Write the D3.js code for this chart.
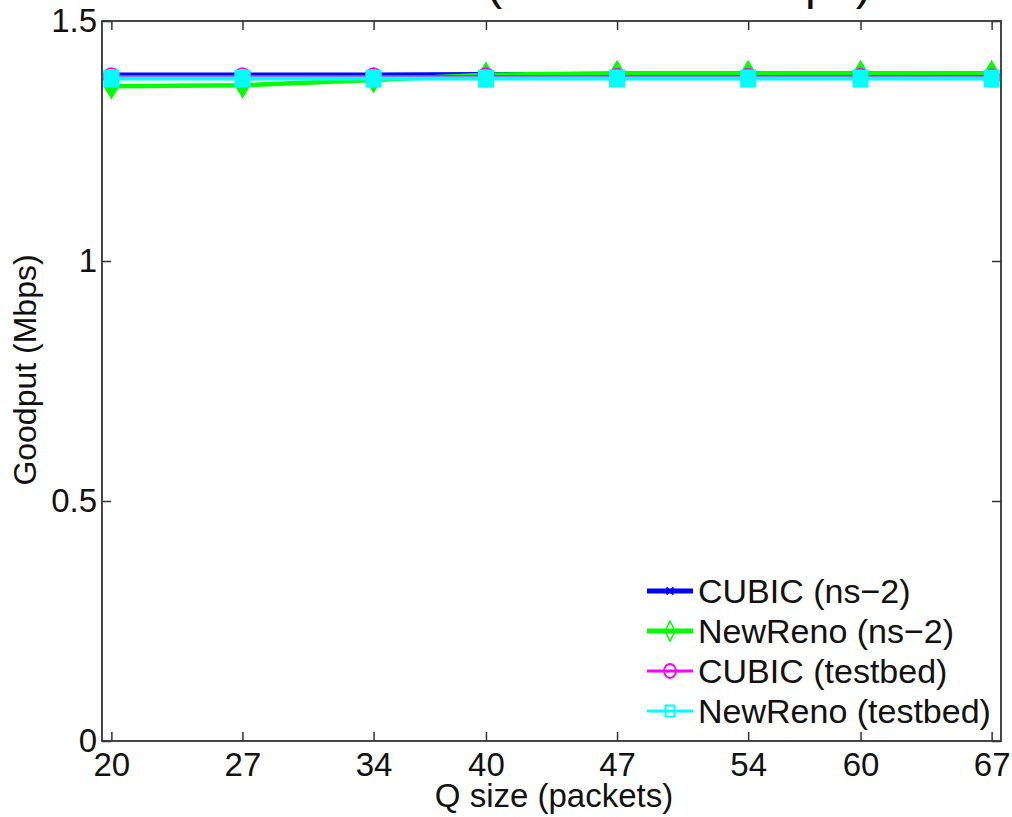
<!DOCTYPE html>
<html>
<head>
<meta charset="utf-8">
<script src="https://cdn.jsdelivr.net/npm/d3@7"></script>
<style>
  body { margin: 0; background: #fff; }
  text { font-family: "Liberation Sans", Arial, sans-serif; fill: #111; }
</style>
</head>
<body>
<div id="chart"></div>
<script>
// Data
const qSizes = [20, 27, 34, 40, 47, 54, 60, 67];
const cubicNs2 = [1.388, 1.388, 1.388, 1.389, 1.389, 1.389, 1.389, 1.389];
const newrenoNs2 = [1.364, 1.366, 1.377, 1.388, 1.391, 1.391, 1.391, 1.391];
const cubicTestbed = [1.385, 1.385, 1.385, 1.385, 1.384, 1.384, 1.384, 1.383];
const newrenoTestbed = [1.380, 1.380, 1.380, 1.380, 1.380, 1.380, 1.380, 1.380];
const yTicks = [0, 0.5, 1, 1.5];
const seriesNames = ["CUBIC (ns\u22122)", "NewReno (ns\u22122)", "CUBIC (testbed)", "NewReno (testbed)"];

const W = 1012, H = 817;
const plotL = 102, plotR = 1001, plotT = 21, plotB = 741;

const svg = d3.select("#chart").append("svg")
    .attr("width", W)
    .attr("height", H);

const x = d3.scaleLinear().domain([19.5, 67.5]).range([plotL, plotR]);
const y = d3.scaleLinear().domain([0, 1.5]).range([plotB, plotT]);

// title (cut off at the top of the picture)
svg.append("text")
    .attr("x", 679)
    .attr("y", -1)
    .attr("text-anchor", "middle")
    .style("font-size", "48px")
    .text("(Rate = 1.5 Mbps)");

// axes with inward ticks on all sides
const tickLen = 9;
svg.append("g")
    .attr("transform", `translate(0,${plotB})`)
    .call(d3.axisBottom(x).tickValues(qSizes).tickSize(-tickLen).tickPadding(12).tickFormat(d3.format("d")))
    .call(g => g.select(".domain").remove());
svg.append("g")
    .attr("transform", `translate(0,${plotT})`)
    .call(d3.axisTop(x).tickValues(qSizes).tickSize(-tickLen).tickFormat(""))
    .call(g => g.select(".domain").remove());
svg.append("g")
    .attr("transform", `translate(${plotL},0)`)
    .call(d3.axisLeft(y).tickValues(yTicks).tickSize(-tickLen).tickPadding(5).tickFormat(d => d3.format("")(d)))
    .call(g => g.select(".domain").remove());
svg.append("g")
    .attr("transform", `translate(${plotR},0)`)
    .call(d3.axisRight(y).tickValues(yTicks).tickSize(-tickLen).tickFormat(""))
    .call(g => g.select(".domain").remove());

svg.selectAll(".tick line").attr("stroke", "#333").attr("stroke-width", 1.5);
svg.selectAll(".tick text")
    .style("font-size", "33px")
    .attr("fill", "#111")
    .style("font-family", "'Liberation Sans', Arial, sans-serif");

// frame
svg.append("rect")
    .attr("x", plotL).attr("y", plotT)
    .attr("width", plotR - plotL).attr("height", plotB - plotT)
    .attr("fill", "none")
    .attr("stroke", "#333")
    .attr("stroke-width", 1.8);

// axis labels
svg.append("text")
    .attr("x", 554).attr("y", 807)
    .attr("text-anchor", "middle")
    .style("font-size", "33px")
    .text("Q size (packets)");
svg.append("text")
    .attr("transform", "translate(36,370) rotate(-90)")
    .attr("text-anchor", "middle")
    .style("font-size", "32px")
    .text("Goodput (Mbps)");

// series
const series = [
    {name: seriesNames[0], vals: cubicNs2, color: "#0000ff", width: 4.5, marker: "x"},
    {name: seriesNames[1], vals: newrenoNs2, color: "#00ff00", width: 4.5, marker: "diamond"},
    {name: seriesNames[2], vals: cubicTestbed, color: "#ff00ff", width: 2.5, marker: "circle"},
    {name: seriesNames[3], vals: newrenoTestbed, color: "#00ffff", width: 4, marker: "square"}
];

const line = d3.line().x(d => x(d[0])).y(d => y(d[1]));

function drawMarker(g, type, cx, cy, color, big) {
    const s = big ? 1 : 0.7;
    if (type === "x") {
        const r = 5 * s;
        g.append("path")
            .attr("d", `M${cx - r},${cy - r}L${cx + r},${cy + r}M${cx - r},${cy + r}L${cx + r},${cy - r}`)
            .attr("stroke", color).attr("stroke-width", 2).attr("fill", "none");
    } else if (type === "diamond") {
        const rx = big ? 7 : 5, ry = big ? 12 : 10;
        g.append("path")
            .attr("d", `M${cx},${cy - ry}L${cx + rx},${cy}L${cx},${cy + ry}L${cx - rx},${cy}Z`)
            .attr("stroke", color).attr("stroke-width", 1.5)
            .attr("fill", big ? color : "none");
    } else if (type === "circle") {
        g.append("ellipse")
            .attr("cx", cx).attr("cy", cy)
            .attr("rx", big ? 8 : 6).attr("ry", big ? 8 : 7)
            .attr("stroke", color).attr("stroke-width", 1.8)
            .attr("fill", "none");
    } else {
        const w = big ? 14 : 9, h = big ? 16 : 11;
        g.append("rect")
            .attr("x", cx - w / 2).attr("y", cy - h / 2)
            .attr("width", w).attr("height", h)
            .attr("stroke", color).attr("stroke-width", 2)
            .attr("fill", big ? color : "none");
    }
}

const plot = svg.append("g");
series.forEach(s => {
    const pts = qSizes.map((q, i) => [q, s.vals[i]]);
    plot.append("path")
        .datum(pts)
        .attr("d", line)
        .attr("fill", "none")
        .attr("stroke", s.color)
        .attr("stroke-width", s.width);
    pts.forEach(p => drawMarker(plot, s.marker, x(p[0]), y(p[1]), s.color, true));
});

// legend
const legend = svg.append("g");
const rowY = [591, 631, 671, 711];
series.forEach((s, i) => {
    legend.append("line")
        .attr("x1", 647).attr("x2", 693)
        .attr("y1", rowY[i]).attr("y2", rowY[i])
        .attr("stroke", s.color)
        .attr("stroke-width", i < 2 ? 5 : 3);
    drawMarker(legend, s.marker, 670, rowY[i], s.color, false);
    legend.append("text")
        .attr("x", 698).attr("y", rowY[i] + 12)
        .style("font-size", "34px")
        .text(s.name);
});
</script>
</body>
</html>
